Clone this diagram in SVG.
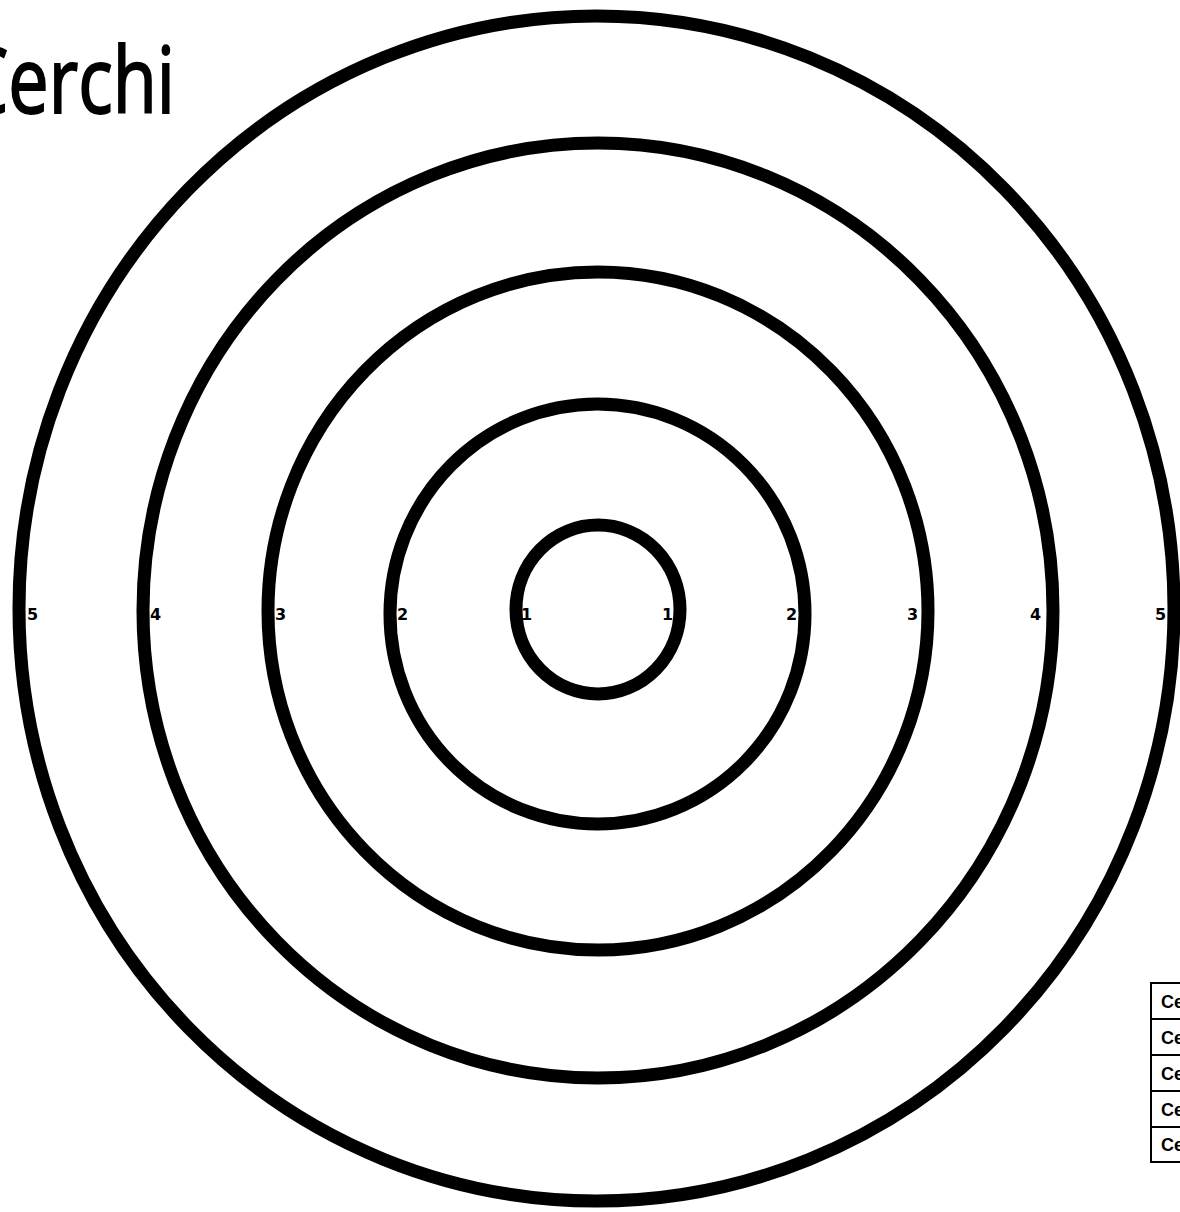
<svg xmlns="http://www.w3.org/2000/svg" width="1180" height="1212" viewBox="0 0 1180 1212">
<style>
.ring{fill:none;stroke:#000;stroke-width:13}
.lbl{font-family:"DejaVu Sans",Verdana,sans-serif;font-weight:bold;font-size:16px;fill:#000}
.title{font-family:"Open Sans","Noto Sans",sans-serif;font-size:92px;fill:#000;stroke:#000;stroke-width:2}
.cell{fill:#fff;stroke:#000;stroke-width:2}
.ctxt{font-family:"Liberation Sans",Arial,sans-serif;font-weight:bold;font-size:18px;fill:#000}
</style>
<rect width="1180" height="1212" fill="#fff"/>
<g id="title">
<text class="title" x="-37" y="113" textLength="212" lengthAdjust="spacingAndGlyphs">Cerchi</text>
</g>
<g id="ring5"><ellipse class="ring" cx="596.5" cy="608.5" rx="577.5" ry="592.5"/></g>
<g id="ring4"><ellipse class="ring" cx="598" cy="610.5" rx="455" ry="467.5"/></g>
<g id="ring3"><ellipse class="ring" cx="598" cy="611" rx="330" ry="339"/></g>
<g id="ring2"><ellipse class="ring" cx="597.5" cy="614" rx="207.5" ry="210"/></g>
<g id="ring1"><ellipse class="ring" cx="598" cy="609.5" rx="82" ry="84.5"/></g>
<g id="labels">
<text class="lbl" x="27" y="620">5</text>
<text class="lbl" x="150" y="620">4</text>
<text class="lbl" x="275" y="620">3</text>
<text class="lbl" x="397" y="620">2</text>
<text class="lbl" x="521" y="620">1</text>
<text class="lbl" x="662" y="620">1</text>
<text class="lbl" x="786" y="620">2</text>
<text class="lbl" x="907" y="620">3</text>
<text class="lbl" x="1030" y="620">4</text>
<text class="lbl" x="1155" y="620">5</text>
</g>
<g id="legend">
<rect class="cell" x="1151" y="983" width="40" height="36"/>
<rect class="cell" x="1151" y="1019" width="40" height="36"/>
<rect class="cell" x="1151" y="1055" width="40" height="36"/>
<rect class="cell" x="1151" y="1091" width="40" height="36"/>
<rect class="cell" x="1151" y="1127" width="40" height="35"/>
<text class="ctxt" x="1161" y="1008">Ce</text>
<text class="ctxt" x="1161" y="1044">Ce</text>
<text class="ctxt" x="1161" y="1080">Ce</text>
<text class="ctxt" x="1161" y="1116">Ce</text>
<text class="ctxt" x="1161" y="1151">Ce</text>
</g>
</svg>
